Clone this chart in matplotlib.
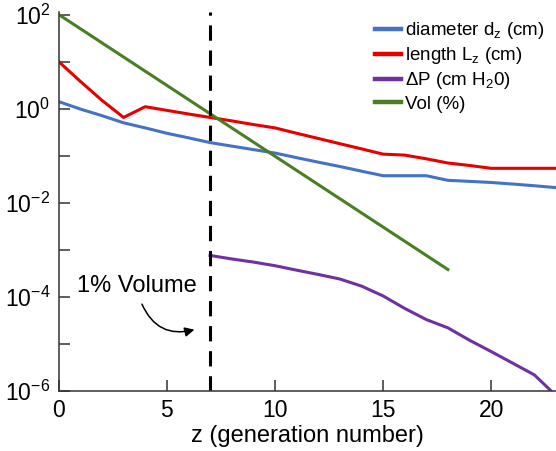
import numpy as np
import matplotlib
matplotlib.use("Agg")
import matplotlib.pyplot as plt
from matplotlib.patches import FancyArrowPatch

plt.rcParams['font.family'] = ['Liberation Sans', 'DejaVu Sans']
plt.rcParams['mathtext.fontset'] = 'custom'
plt.rcParams['mathtext.rm'] = 'Liberation Sans'
plt.rcParams['mathtext.it'] = 'Liberation Sans'

# generation numbers
gen = np.arange(0, 24)
gen_dp = np.arange(7, 24)
gen_vol = np.arange(0, 19)

diameter = [1.41, 0.98, 0.71, 0.50, 0.39, 0.30, 0.24, 0.19, 0.16, 0.135, 0.114, 0.091,
            0.073, 0.059, 0.047, 0.0376, 0.0376, 0.0376, 0.030, 0.0285, 0.027, 0.025,
            0.023, 0.021]
length = [10, 3.8, 1.5, 0.65, 1.1, 0.92, 0.77, 0.65, 0.55, 0.46, 0.39, 0.30, 0.233,
          0.18, 0.14, 0.108, 0.103, 0.086, 0.070, 0.062, 0.054, 0.054, 0.054, 0.054]
delta_p = [7.6e-4, 6.4e-4, 5.5e-4, 4.6e-4, 3.7e-4, 3.0e-4, 2.4e-4, 1.7e-4, 1.05e-4,
           5.7e-5, 3.3e-5, 2.2e-5, 1.2e-5, 6.9e-6, 3.9e-6, 2.2e-6, 8e-7]
volume = [100, 50, 25, 12.5, 6.25, 3.125, 1.5625, 0.78125, 0.390625, 0.1953, 0.09766,
          0.04883, 0.02441, 0.01221, 0.006104, 0.003052, 0.001526, 0.000763, 0.000381]

labels = ['diameter d$\\mathregular{_z}$ (cm)', 'length L$\\mathregular{_z}$ (cm)',
          'ΔP (cm H$\\mathregular{_2}$0)', 'Vol (%)']
colors = ['#4472C4', '#E60000', '#7030A0', '#4A7E22']

fig = plt.figure(figsize=(5.56, 4.51), dpi=100)
ax = fig.add_axes([0.1056, 0.133, 0.8944, 0.840])

lw = 2.2
ax.plot(gen, diameter, color=colors[0], lw=lw, label=labels[0])
ax.plot(gen, length, color=colors[1], lw=lw, label=labels[1])
ax.plot(gen_dp, delta_p, color=colors[2], lw=lw, label=labels[2])
ax.plot(gen_vol, volume, color=colors[3], lw=lw, label=labels[3])

ax.axvline(7, color='black', lw=2.2, linestyle=(0, (5, 3.2)))

ax.set_yscale('log')
ax.set_xlim(0, 23)
ax.set_ylim(1e-6, 10 ** 2.05)

decades = list(range(-6, 3))
ax.set_yticks([10.0 ** d for d in decades])
ax.set_yticklabels(['$\\mathregular{10^{%d}}$' % d if d % 2 == 0 else '' for d in decades])
ax.yaxis.set_minor_locator(matplotlib.ticker.NullLocator())
ax.set_xticks([0, 5, 10, 15, 20])

ax.spines['top'].set_visible(False)
ax.spines['right'].set_visible(False)
for s in ('left', 'bottom'):
    ax.spines[s].set_linewidth(1.1)
    ax.spines[s].set_color('#333333')
ax.tick_params(direction='in', length=8, width=1.1, color='#333333')
ax.tick_params(axis='y', labelsize=16.5, pad=6)
ax.tick_params(axis='x', labelsize=16.5, pad=6)

ax.set_xlabel('z (generation number)', fontsize=17, labelpad=2)

ax.text(3.6, 10 ** -3.77, '1% Volume', fontsize=17, ha='center', va='center')
arrow = FancyArrowPatch((3.8, 10 ** -4.1), (6.4, 10 ** -4.68),
                        connectionstyle='arc3,rad=0.45', arrowstyle='-|>',
                        mutation_scale=14, lw=1.1, color='black')
ax.add_patch(arrow)

leg = ax.legend(loc='upper left', bbox_to_anchor=(366 / 556, 0.976),
                bbox_transform=fig.transFigure, frameon=False, fontsize=13.5,
                handlelength=1.35, handletextpad=0.25, labelspacing=0.22, borderpad=0)
for line in leg.get_lines():
    line.set_linewidth(3.2)

fig.savefig('out.png', dpi=100)
